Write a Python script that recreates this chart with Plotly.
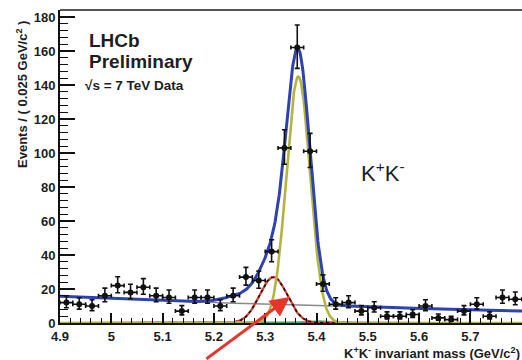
import numpy as np
import plotly.graph_objects as go

# K+K- invariant mass spectrum, 0.025 GeV/c^2 bins
mass_bins = [4.9125, 4.9375, 4.9625, 4.9875, 5.0125, 5.0375, 5.0625, 5.0875,
             5.1125, 5.1375, 5.1625, 5.1875, 5.2125, 5.2375, 5.2625, 5.2875,
             5.3125, 5.3375, 5.3625, 5.3875, 5.4125, 5.4375, 5.4625, 5.4875,
             5.5125, 5.5375, 5.5625, 5.5875, 5.6125, 5.6375, 5.6625, 5.6875,
             5.7125, 5.7375, 5.7625, 5.7875]
events = [12, 11, 10, 16, 22, 18, 21, 16,
          15, 7, 15, 15, 10, 16, 27, 25,
          42, 103, 162, 101, 23, 11, 12, 7,
          9, 4, 4, 5, 10, 3, 2, 7,
          11, 4, 15, 14]
bin_half_width = 0.0125

x_ticks = [4.9, 5.0, 5.1, 5.2, 5.3, 5.4, 5.5, 5.6, 5.7, 5.8]
x_tick_text = ["4.9", "5", "5.1", "5.2", "5.3", "5.4", "5.5", "5.6", "5.7", "5.8"]
y_ticks = [0, 20, 40, 60, 80, 100, 120, 140, 160, 180]

# fit model parameters
bkg_norm, bkg_slope = 15.8, 0.9                      # combinatorial (exponential)
sig_mean, sig_sigma, sig_norm = 5.3645, 0.023, 145   # Bs -> K+K-
refl_mean, refl_sigma, refl_norm = 5.316, 0.027, 27  # B0 component
prc_mean, prc_sigma, prc_norm = 5.255, 0.035, 4.5    # partially reconstructed
misid_mean, misid_sigma, misid_norm = 5.40, 0.025, 1.2
wide_mean, wide_sigma, wide_norm = 5.47, 0.09, 0.45


def gauss(x, mu, sig, norm):
    return norm * np.exp(-0.5 * ((x - mu) / sig) ** 2)


m = np.linspace(4.9, 5.81, 700)
bkg = bkg_norm * np.exp(-bkg_slope * (m - 4.9))
sig = gauss(m, sig_mean, sig_sigma, sig_norm)
refl = gauss(m, refl_mean, refl_sigma, refl_norm)
prc = gauss(m, prc_mean, prc_sigma, prc_norm)
misid = gauss(m, misid_mean, misid_sigma, misid_norm)
wide = gauss(m, wide_mean, wide_sigma, wide_norm)
total = bkg + sig + refl + prc + misid + wide

counts = np.array(events, dtype=float)
err_up = np.sqrt(counts + 0.25) + 0.5
err_dn = np.sqrt(counts + 0.25) - 0.5

fig = go.Figure()
fig.add_trace(go.Scatter(x=m, y=wide, mode="lines",
                         line=dict(color="#c02cc0", width=1.5), hoverinfo="skip"))
fig.add_trace(go.Scatter(x=m, y=misid, mode="lines",
                         line=dict(color="#2fb36a", width=1.5), hoverinfo="skip"))
fig.add_trace(go.Scatter(x=m, y=bkg, mode="lines",
                         line=dict(color="#8a8a8a", width=1.5), hoverinfo="skip"))
fig.add_trace(go.Scatter(x=m, y=refl, mode="lines",
                         line=dict(color="#e23b2e", width=2.2), hoverinfo="skip"))
fig.add_trace(go.Scatter(x=m, y=refl, mode="lines",
                         line=dict(color="#111111", width=1.6, dash="dot"), hoverinfo="skip"))
fig.add_trace(go.Scatter(x=m, y=sig, mode="lines",
                         line=dict(color="#b3b43f", width=2.6), hoverinfo="skip"))
fig.add_trace(go.Scatter(x=m, y=total, mode="lines",
                         line=dict(color="#2f42b2", width=3), hoverinfo="skip"))
fig.add_trace(go.Scatter(
    x=mass_bins, y=events, mode="markers",
    marker=dict(color="#111111", size=6, symbol="circle"),
    error_y=dict(type="data", symmetric=False, array=err_up, arrayminus=err_dn,
                 color="#111111", thickness=1.6, width=2.5),
    error_x=dict(type="constant", value=bin_half_width,
                 color="#111111", thickness=1.6, width=2),
))

fig.update_layout(
    width=522, height=360,
    margin=dict(l=60, r=0, t=10, b=37),
    paper_bgcolor="white", plot_bgcolor="white",
    showlegend=False,
    font=dict(family="Liberation Sans, Arial, sans-serif", color="#1e1e1e"),
)
fig.update_xaxes(
    range=[4.9, 5.8006], tickvals=x_ticks, ticktext=x_tick_text,
    ticks="inside", ticklen=10, tickwidth=1.5, tickcolor="#111111",
    minor=dict(dtick=0.02, ticks="inside", ticklen=5, tickwidth=1.2, tickcolor="#111111"),
    showline=True, linecolor="#111111", linewidth=2,
    showgrid=False, zeroline=False,
    tickfont=dict(size=13, weight=700, color="#1e1e1e"),
)
fig.update_yaxes(
    range=[0, 184.1], tickvals=y_ticks,
    ticks="inside", ticklen=15, tickwidth=1.5, tickcolor="#111111",
    minor=dict(dtick=4, ticks="inside", ticklen=8, tickwidth=1.2, tickcolor="#111111"),
    showline=True, linecolor="#111111", linewidth=2,
    showgrid=False, zeroline=False,
    tickfont=dict(size=13, weight=700, color="#1e1e1e"),
)
# top frame line
fig.add_shape(type="line", xref="paper", yref="paper", x0=0, x1=1, y0=1, y1=1,
              line=dict(color="#555555", width=2))

ann_font = dict(family="Liberation Sans, Arial, sans-serif", color="#1e1e1e")
fig.add_annotation(text="<b>LHCb</b>", xref="paper", yref="paper",
                   x=(87 - 60) / 462, y=(323 - 40) / 313, xanchor="left", yanchor="middle",
                   showarrow=False, font=dict(size=19, **ann_font))
fig.add_annotation(text="<b>Preliminary</b>", xref="paper", yref="paper",
                   x=(87 - 60) / 462, y=(323 - 61) / 313, xanchor="left", yanchor="middle",
                   showarrow=False, font=dict(size=19, **ann_font))
fig.add_annotation(text="<b>\u221as = 7 TeV Data</b>", xref="paper", yref="paper",
                   x=(83 - 60) / 462, y=(323 - 85) / 313, xanchor="left", yanchor="middle",
                   showarrow=False, font=dict(size=13.5, **ann_font))
fig.add_annotation(text="K<sup>+</sup>K<sup>-</sup>", xref="paper", yref="paper",
                   x=(359 - 60) / 462, y=(323 - 172) / 313, xanchor="left", yanchor="middle",
                   showarrow=False, font=dict(size=22, **ann_font))
fig.add_annotation(text="<b>Events / ( 0.025 GeV/c<sup>2</sup> )</b>", xref="paper", yref="paper",
                   x=(22 - 60) / 462, y=(323 - 95) / 313, xanchor="center", yanchor="middle",
                   textangle=-90, showarrow=False, font=dict(size=13, **ann_font))
fig.add_annotation(text="<b>K<sup>+</sup>K<sup>-</sup> invariant mass (GeV/c<sup>2</sup>)</b>",
                   xref="paper", yref="paper",
                   x=1.0, y=(323 - 353) / 313, xanchor="right", yanchor="middle",
                   showarrow=False, font=dict(size=13, **ann_font))
# arrow pointing at the B0 component
fig.add_annotation(x=5.348, y=15.3, xref="x", yref="y", text="",
                   showarrow=True, arrowhead=2, arrowsize=1.3, arrowwidth=3,
                   arrowcolor="#e8352a", ax=-85, ay=64)

fig.write_html("out.html")
